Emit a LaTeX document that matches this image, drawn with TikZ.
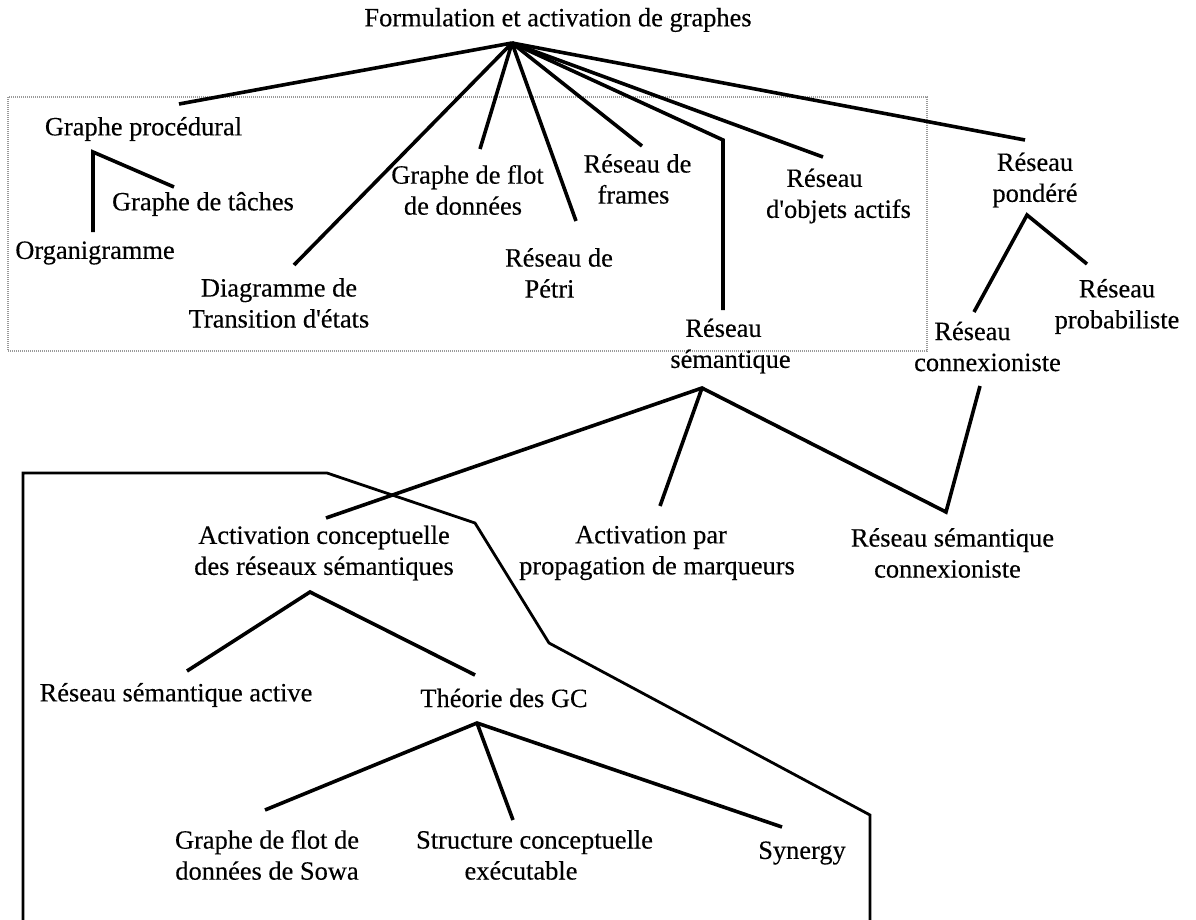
\documentclass[tikz,border=0pt]{standalone}
\usepackage{fontspec}
\setmainfont[FakeBold=0.3]{Liberation Serif}
\newcommand{\sqapos}{\textquotesingle}
\begin{document}
\begin{tikzpicture}[x=1pt,y=-1pt,
  lbl/.style={font=\fontsize{26.4}{31}\selectfont, align=center, inner sep=0pt},
  branch/.style={line width=3.6pt, line join=miter},
  frameline/.style={line width=2.8pt, line join=miter},
  groupbox/.style={draw=black!40, line width=1.1pt, dash pattern=on 1pt off 1pt}]
\useasboundingbox (0,0) rectangle (1196,920);

% dotted group around the graph families
\draw[groupbox] (8,97) rectangle (927,351);

% outer frame around the conceptual-activation branch
\draw[frameline] (23,921) -- (23,473) -- (327,473) -- (475,523) -- (549,643) -- (870,815) -- (870,921);

% labels
\node[lbl] (title)  at (558,20)    {Formulation et activation de graphes};
\node[lbl] (gp)     at (143.5,129) {Graphe procédural};
\node[lbl] (gt)     at (203,204)   {Graphe de tâches};
\node[lbl] (org)    at (95,253)    {Organigramme};
\node[lbl] (diag)   at (279,303)   {Diagramme de\\Transition d\sqapos états};
\node[lbl] (flot)   at (467.5,190) {Graphe de flot\\de données\hspace*{9pt}};
\node[lbl] (petri)  at (559,273)   {Réseau de\\Pétri\hspace*{19pt}};
\node[lbl] (frames) at (637.5,179) {Réseau de\\frames\hspace*{8pt}};
\node[lbl] (objets) at (838.5,196) {Réseau\hspace*{28pt}\\d\sqapos objets actifs};
\node[lbl] (sem)    at (730.5,346) {Réseau\hspace*{14pt}\\sémantique};
\node[lbl] (pond)   at (1035,180)  {Réseau\\pondéré};
\node[lbl] (proba)  at (1117,306.5){Réseau\\probabiliste};
\node[lbl] (conn)   at (987.5,346.5){Réseau\hspace*{30pt}\\connexioniste};
\node[lbl] (actc)   at (324,553)   {Activation conceptuelle\\des réseaux sémantiques};
\node[lbl] (actp)   at (657,553)   {Activation par\hspace*{12pt}\\propagation de marqueurs};
\node[lbl] (rsc)    at (952.5,553) {Réseau sémantique\\connexioniste\hspace*{10pt}};
\node[lbl] (rsa)    at (176,695)   {Réseau sémantique active};
\node[lbl] (theo)   at (504,698)   {Théorie des GC};
\node[lbl] (sowa)   at (267,855)   {Graphe de flot de\\données de Sowa};
\node[lbl] (struct) at (534.5,855) {Structure conceptuelle\\exécutable\hspace*{27pt}};
\node[lbl] (syn)    at (802,853)   {Synergy};

% branching points and connector ends
\coordinate (root)      at (512,43);
\coordinate (gp-in)     at (179,104);
\coordinate (diag-in)   at (294,265);
\coordinate (flot-in)   at (480,149);
\coordinate (petri-in)  at (576,221);
\coordinate (frames-in) at (642,146);
\coordinate (sem-bend)  at (723,140);
\coordinate (sem-in)    at (723,310);
\coordinate (objets-in) at (823,157);
\coordinate (pond-in)   at (1025,140);

\coordinate (gp-out)    at (93,152);
\coordinate (org-in)    at (93,232);
\coordinate (gt-in)     at (174,187);

\coordinate (pond-out)  at (1027,215);
\coordinate (conn-in)   at (974,312);
\coordinate (proba-in)  at (1087,264);

\coordinate (sem-out)   at (702,388);
\coordinate (conn-out)  at (980,386);
\coordinate (actc-in)   at (326,518);
\coordinate (actp-in)   at (660,506);
\coordinate (rsc-in)    at (946,512);

\coordinate (actc-out)  at (310,592);
\coordinate (rsa-in)    at (187,671);
\coordinate (theo-in)   at (475,675);

\coordinate (theo-out)  at (477,723);
\coordinate (sowa-in)   at (265,810);
\coordinate (struct-in) at (513,820);
\coordinate (syn-in)    at (782,827);

% connectors from the root
\draw[branch] (root) -- (gp-in);
\draw[branch] (root) -- (diag-in);
\draw[branch] (root) -- (flot-in);
\draw[branch] (root) -- (petri-in);
\draw[branch] (root) -- (frames-in);
\draw[branch] (root) -- (sem-bend) -- (sem-in);
\draw[branch] (root) -- (objets-in);
\draw[branch] (root) -- (pond-in);

% sub-trees
\draw[branch] (org-in) -- (gp-out) -- (gt-in);
\draw[branch] (conn-in) -- (pond-out) -- (proba-in);
\draw[branch] (actc-in) -- (sem-out) -- (rsc-in) -- (conn-out);
\draw[branch] (sem-out) -- (actp-in);
\draw[branch] (rsa-in) -- (actc-out) -- (theo-in);
\draw[branch] (sowa-in) -- (theo-out) -- (syn-in);
\draw[branch] (theo-out) -- (struct-in);
\end{tikzpicture}
\end{document}
